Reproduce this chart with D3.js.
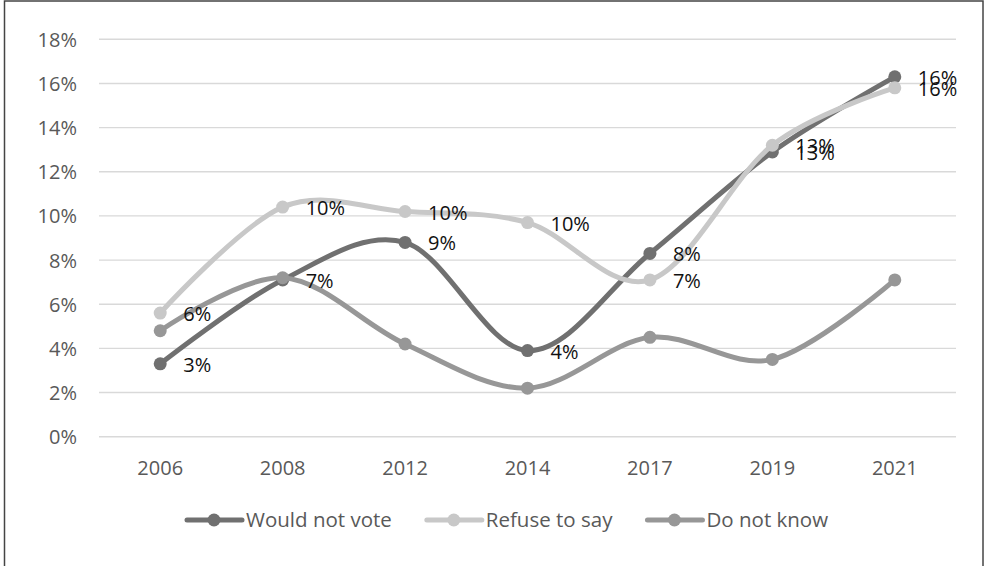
<!DOCTYPE html>
<html>
<head>
<meta charset="utf-8">
<script src="https://cdn.jsdelivr.net/npm/d3@7/dist/d3.min.js"></script>
<style>
  html, body { margin: 0; padding: 0; background: #fff; }
  svg { display: block; }
  text { font-family: "Open Sans", sans-serif; }
</style>
</head>
<body>
<svg id="chart" width="988" height="566"></svg>
<script>
const categories = ["2006", "2008", "2012", "2014", "2017", "2019", "2021"];
const seriesNames = ["Would not vote", "Refuse to say", "Do not know"];
const wouldNotVote = [3.3, 7.1, 8.8, 3.9, 8.3, 12.9, 16.3];
const refuseToSay = [5.6, 10.4, 10.2, 9.7, 7.1, 13.2, 15.8];
const doNotKnow = [4.8, 7.2, 4.2, 2.2, 4.5, 3.5, 7.1];
const yTicks = [0, 2, 4, 6, 8, 10, 12, 14, 16, 18];
const seriesColors = ["#707070", "#c8c8c8", "#979797"];
const showLabels = [true, true, false];

const series = [wouldNotVote, refuseToSay, doNotKnow].map((vals, i) => ({
  name: seriesNames[i], values: vals, color: seriesColors[i], labels: showLabels[i]
}));

const svg = d3.select("#chart");
const fontSize = 20;
const legendFontSize = 20.5;

// chart border
svg.append("rect").attr("x", 4.5).attr("y", 1).attr("width", 978.5).attr("height", 600)
  .attr("fill", "none").attr("stroke", "#444").attr("stroke-width", 1.5);

const x = d3.scaleBand().domain(categories).range([99, 956]);
const y = d3.scaleLinear().domain([0, 18]).range([436.7, 39.3]);
const cx = d => x(d) + x.bandwidth() / 2;

// gridlines
svg.append("g").selectAll("line").data(yTicks).join("line")
  .attr("x1", 99).attr("x2", 956)
  .attr("y1", d => y(d)).attr("y2", d => y(d))
  .attr("stroke", "#d9d9d9").attr("stroke-width", 1.4);

// y axis labels
const yAxis = d3.axisLeft(y).tickValues(yTicks).tickFormat(d => d + "%").tickSize(0).tickPadding(0);
const yg = svg.append("g").attr("transform", "translate(77,0)").call(yAxis);
yg.select(".domain").remove();
yg.selectAll("text").attr("font-size", fontSize).attr("fill", "#595959")
  .attr("font-family", "'Open Sans', sans-serif").attr("dy", "0.35em");

// x axis labels
const xAxis = d3.axisBottom(x).tickSize(0).tickPadding(0);
const xg = svg.append("g").attr("transform", "translate(0,475)").call(xAxis);
xg.select(".domain").remove();
xg.selectAll("text").attr("font-size", fontSize).attr("fill", "#595959")
  .attr("font-family", "'Open Sans', sans-serif").attr("dy", "0");

// lines
const line = d3.line().x((d, i) => cx(categories[i])).y(d => y(d)).curve(d3.curveCatmullRom.alpha(0));

series.forEach(s => {
  const g = svg.append("g");
  g.append("path").attr("d", line(s.values)).attr("fill", "none")
    .attr("stroke", s.color).attr("stroke-width", 5).attr("stroke-linecap", "round");
  g.selectAll("circle").data(s.values).join("circle")
    .attr("cx", (d, i) => cx(categories[i])).attr("cy", d => y(d)).attr("r", 6.5)
    .attr("fill", s.color);
});

// data labels
const fmt = d3.format(".0f");
series.filter(s => s.labels).forEach(s => {
  svg.append("g").selectAll("text").data(s.values).join("text")
    .attr("x", (d, i) => cx(categories[i]) + 23)
    .attr("y", d => y(d) + 1)
    .attr("dy", "0.35em")
    .attr("font-size", fontSize).attr("fill", "#111")
    .text(d => fmt(d) + "%");
});

// legend
const legend = svg.append("g");
let lx = 187;
const ly = 520;
series.forEach(s => {
  const g = legend.append("g");
  g.append("line").attr("x1", lx).attr("x2", lx + 55).attr("y1", ly).attr("y2", ly)
    .attr("stroke", s.color).attr("stroke-width", 5).attr("stroke-linecap", "round");
  g.append("circle").attr("cx", lx + 27).attr("cy", ly).attr("r", 6.5).attr("fill", s.color);
  const t = g.append("text").attr("x", lx + 59).attr("y", ly).attr("dy", "0.35em")
    .attr("font-size", legendFontSize).attr("fill", "#595959").text(s.name);
  const w = t.node().getComputedTextLength();
  lx = lx + 59 + w + 35;
});
</script>
</body>
</html>
